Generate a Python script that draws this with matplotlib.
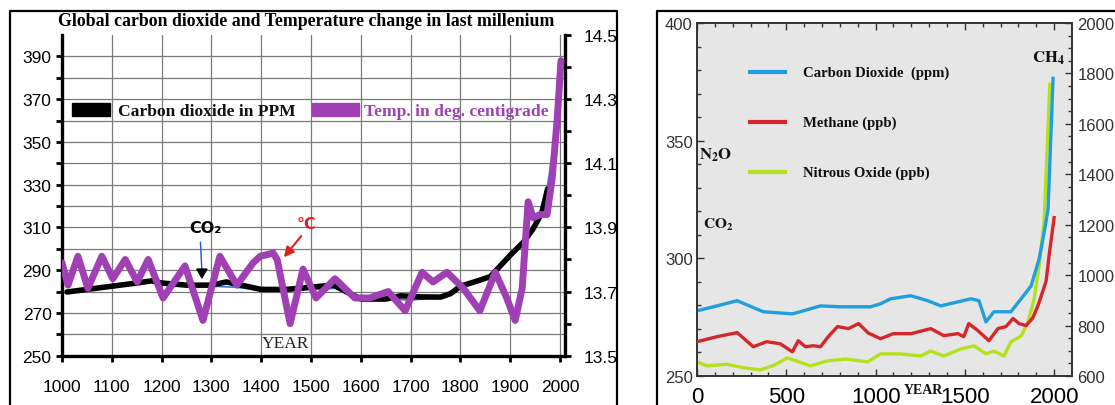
import numpy as np
import matplotlib
matplotlib.use('Agg')
import matplotlib.pyplot as plt
from matplotlib.lines import Line2D
from matplotlib.patches import Rectangle

plt.rcParams['mathtext.fontset'] = 'stix'

W, H = 1115, 406

# ---- left panel data (last millenium) ----
co2_years = [1010, 1050, 1100, 1150, 1180, 1200, 1250, 1300, 1330, 1360, 1400, 1450, 1480,
             1520, 1545, 1570, 1600, 1650, 1680, 1720, 1760, 1780, 1800, 1840, 1860, 1880,
             1900, 1926, 1945, 1964, 1975]
co2_ppm = [279.8, 281, 282.5, 284, 285, 284, 283, 283, 284.5, 283, 281, 281, 281.6,
           282.5, 283, 280, 276.5, 276.5, 278, 277.5, 277.4, 279, 282.5, 285.4, 287, 292,
           297, 303, 309, 317, 328]

co2_full_years = [1200, 1250, 1300, 1350, 1400, 1450, 1500, 1550, 1600, 1650, 1700, 1750,
                  1800, 1850, 1900, 1930, 1950, 1975, 1990, 2000]
co2_full_ppm = [283, 282.5, 282.5, 282, 280.5, 280.5, 281, 281.5, 277, 276.5, 276, 277,
                282, 285.5, 296, 305, 310, 330, 352, 372]

temp_years = [1000, 1012, 1032, 1052, 1080, 1102, 1127, 1151, 1173, 1203, 1247, 1283, 1317,
              1351, 1384, 1398, 1424, 1432, 1458, 1484, 1510, 1548, 1588, 1618, 1655, 1689,
              1723, 1745, 1773, 1806, 1839, 1870, 1893, 1910, 1924, 1936, 1946, 1960, 1974,
              1984, 1994, 2002]
temp_deg = [13.79, 13.72, 13.81, 13.71, 13.81, 13.74, 13.80, 13.73, 13.80, 13.68, 13.78,
            13.61, 13.81, 13.72, 13.79, 13.81, 13.82, 13.80, 13.60, 13.77, 13.68, 13.74,
            13.68, 13.68, 13.70, 13.64, 13.76, 13.73, 13.76, 13.71, 13.64, 13.76, 13.68,
            13.61, 13.71, 13.98, 13.93, 13.94, 13.94, 14.05, 14.23, 14.42]

left_yticks = [250, 270, 290, 310, 330, 350, 370, 390]
left_xticks = list(range(1000, 2001, 100))
temp_ticks = [13.5, 13.7, 13.9, 14.1, 14.3, 14.5]

# ---- right panel data (0 - 2000 AD) ----
co2r_years = [0, 112, 225, 371, 534, 596, 691, 803, 916, 972, 1028, 1084, 1197, 1292, 1365,
              1461, 1534, 1579, 1618, 1663, 1758, 1815, 1871, 1916, 1944, 1966, 1994]
co2r_ppm = [277.7, 279.8, 282, 277.3, 276.4, 277.7, 279.8, 279.4, 279.4, 279.4, 280.7,
            282.8, 284.1, 282, 279.8, 281.5, 282.8, 282, 273, 277.3, 277.3, 282.8, 288.3,
            299.8, 311, 321, 376.5]

ch4_years = [0, 112, 225, 315, 390, 466, 534, 567, 607, 652, 691, 740, 787, 848, 905, 960,
             1028, 1100, 1200, 1309, 1382, 1461, 1494, 1522, 1573, 1635, 1685, 1730, 1770,
             1803, 1843, 1880, 1910, 1955, 1972, 2000]
ch4_ppb = [736, 756, 772, 716, 736, 728, 696, 740, 716, 720, 716, 760, 796, 788, 808, 770,
           748, 768, 768, 788, 760, 768, 756, 808, 780, 740, 788, 796, 828, 808, 800, 830,
           880, 976, 1080, 1228]

n2o_years = [0, 56, 168, 260, 354, 430, 506, 570, 635, 730, 831, 955, 1028, 1140, 1253, 1309,
             1382, 1478, 1551, 1618, 1663, 1719, 1758, 1815, 1854, 1888, 1916, 1944, 1976]
n2o_ppb = [256, 254.3, 255, 253.5, 252.6, 254.5, 257.7, 256, 254.3, 256.4, 257.2, 256, 259.4,
           259.4, 258.5, 260.6, 258.5, 261.5, 262.8, 259.4, 260.6, 258.5, 264.5, 267, 273,
           282.8, 296.9, 316, 374]

right_legend = ['Carbon Dioxide  (ppm)', 'Methane (ppb)', 'Nitrous Oxide (ppb)']


def fx(p):
    return p / W


def fy(p):
    return 1 - p / H


fig = plt.figure(figsize=(W / 100, H / 100), dpi=100)

# outer frames
for xs, ys in [([10, 10, 617, 617], [420, 12, 12, 420]), ([657, 657, 1130], [420, 12, 12])]:
    fig.add_artist(Line2D([fx(v) for v in xs], [fy(v) for v in ys], color='black', lw=1.6,
                          transform=fig.transFigure, clip_on=False))

# ================= left panel =================
ax1 = fig.add_axes([fx(62), fy(356.7), fx(565) - fx(62), fy(36) - fy(356.7)])
ax1.plot(co2_full_years, co2_full_ppm, color='#3c78d8', lw=1.2, zorder=2)
ax1.plot(co2_years, co2_ppm, color='black', lw=4, solid_capstyle='round', zorder=3)
ax1.set_xlim(1000, 2010)
ax1.set_ylim(250, 400)
ax1.set_xticks(left_xticks)
ax1.set_yticks(left_yticks)
ax1.set_yticks(range(260, 391, 20), minor=True)
ax1.grid(True, which='both', axis='y', color='#7a7a7a', lw=0.9)
ax1.grid(True, which='major', axis='x', color='#7a7a7a', lw=0.9)
ax1.set_axisbelow(True)
for s in ['top', 'right']:
    ax1.spines[s].set_visible(False)
for s in ['left', 'bottom']:
    ax1.spines[s].set_linewidth(2.4)
ax1.tick_params(which='both', direction='out', length=4.5, width=2, labelsize=12.5,
                labelfontfamily='Liberation Sans')
ax1.tick_params(axis='x', pad=12)
ax1.tick_params(axis='y', pad=3)

ax1t = ax1.twinx()
ax1t.plot(temp_years, temp_deg, color='#a040b4', lw=5, solid_capstyle='round',
          solid_joinstyle='round', zorder=4)
ax1t.set_ylim(13.5, 14.5)
ax1t.set_yticks(temp_ticks)
ax1t.set_yticklabels(['%.1f' % t for t in temp_ticks])
ax1t.set_yticks([13.6, 13.8, 14.0, 14.2, 14.4], minor=True)
for s in ['top', 'left', 'bottom']:
    ax1t.spines[s].set_visible(False)
ax1t.spines['right'].set_linewidth(2.4)
ax1t.tick_params(which='both', direction='out', length=4.5, width=2, labelsize=12.5,
                 pad=9, labelfontfamily='Liberation Sans')

fig.text(fx(306), fy(22), 'Global carbon dioxide and Temperature change in last millenium',
         ha='center', va='center', family='Liberation Serif', weight='bold', fontsize=12.8)

# legend drawn by hand
fig.add_artist(Rectangle((fx(72), fy(117)), fx(110) - fx(72), fy(104) - fy(117),
                         color='black', transform=fig.transFigure, zorder=6))
fig.text(fx(118), fy(112), 'Carbon dioxide in PPM', ha='left', va='center',
         family='Liberation Serif', weight='bold', fontsize=12.6, color='#111111', zorder=6)
fig.add_artist(Rectangle((fx(312), fy(117)), fx(359) - fx(312), fy(104) - fy(117),
                         color='#a040b4', transform=fig.transFigure, zorder=6))
fig.text(fx(364), fy(112), 'Temp. in deg. centigrade', ha='left', va='center',
         family='Liberation Serif', weight='bold', fontsize=12.6, color='#a040b4', zorder=6)

# annotations
ax1.text(1288, 310, 'CO₂', ha='center', va='center', fontsize=11.5, weight='bold',
         family='DejaVu Sans', zorder=6)
ax1.plot([1278, 1281], [303, 289], color='#2255cc', lw=1, zorder=6)
ax1.annotate('', xy=(1281, 284.5), xytext=(1281, 291),
             arrowprops=dict(arrowstyle='-|>,head_width=0.35,head_length=0.6', color='black',
                             lw=1.2), zorder=6)
ax1.text(1490, 312, '°C', ha='center', va='center', fontsize=11.5, weight='bold',
         color='#e02020', family='DejaVu Sans', zorder=6)
ax1.annotate('', xy=(1442, 295), xytext=(1484, 307),
             arrowprops=dict(arrowstyle='-|>,head_width=0.3,head_length=0.6', color='#e02020',
                             lw=1.5), zorder=6)
ax1.text(1448, 256, 'YEAR', ha='center', va='center', fontsize=12.5,
         family='Liberation Serif', color='#222222', zorder=6)

# ================= right panel =================
ax2 = fig.add_axes([fx(697), fy(377), fx(1072) - fx(697), fy(24) - fy(377)])
ax2.set_facecolor('#e6e6e6')
ax2.plot(n2o_years, n2o_ppb, color='#b4e01e', lw=2.4, zorder=3)
ax2.plot(co2r_years, co2r_ppm, color='#1f9fe0', lw=2.4, zorder=4)
ax2.set_xlim(0, 2100)
ax2.set_ylim(250, 400)
ax2.set_xticks([0, 500, 1000, 1500, 2000])
ax2.set_xticks(range(100, 2100, 100), minor=True)
ax2.set_yticks([250, 300, 350, 400])
ax2.set_yticks(range(260, 400, 10), minor=True)
ax2.tick_params(which='both', direction='in', top=True, color='#333333', width=1)
ax2.tick_params(which='major', length=5)
ax2.tick_params(which='minor', length=3)
ax2.tick_params(axis='x', labelsize=16, pad=7, labelfontfamily='Liberation Sans')
ax2.tick_params(axis='y', labelsize=12, pad=3, labelfontfamily='Liberation Sans',
                labelcolor='#333333')
for s in ax2.spines.values():
    s.set_color('#333333')
    s.set_linewidth(1.2)

ax2t = ax2.twinx()
ax2t.plot(ch4_years, ch4_ppb, color='#d7262b', lw=2.4, zorder=3)
ax2t.set_ylim(600, 2000)
ax2t.set_yticks(range(600, 2001, 200))
ax2t.set_yticks(range(650, 2000, 50), minor=True)
ax2t.tick_params(which='both', direction='in', color='#333333', width=1, labelsize=12,
                 pad=4, labelfontfamily='Liberation Sans', labelcolor='#333333')
ax2t.tick_params(which='major', length=5)
ax2t.tick_params(which='minor', length=3)
for s in ax2t.spines.values():
    s.set_color('#333333')
    s.set_linewidth(1.2)

# legend
for py, col, lab in zip([73, 123, 173], ['#1f9fe0', '#d7262b', '#b4e01e'], right_legend):
    fig.add_artist(Line2D([fx(750), fx(785)], [fy(py), fy(py)], color=col, lw=3,
                          transform=fig.transFigure))
    fig.text(fx(803), fy(py), lab, ha='left', va='center', family='Liberation Serif',
             weight='bold', fontsize=10.6, color='#111111')

fig.text(fx(716), fy(155), r'$\mathbf{N_2O}$', ha='center', va='center', fontsize=12,
         color='#111111')
fig.text(fx(718), fy(225), r'$\mathbf{CO_2}$', ha='center', va='center', fontsize=11,
         color='#111111')
fig.text(fx(1048), fy(58), r'$\mathbf{CH_4}$', ha='center', va='center', fontsize=12,
         color='#111111')
fig.text(fx(923), fy(391), 'YEAR', ha='center', va='center', family='Liberation Serif',
         weight='bold', fontsize=10, color='#111111')

fig.savefig('out.png', dpi=100)
